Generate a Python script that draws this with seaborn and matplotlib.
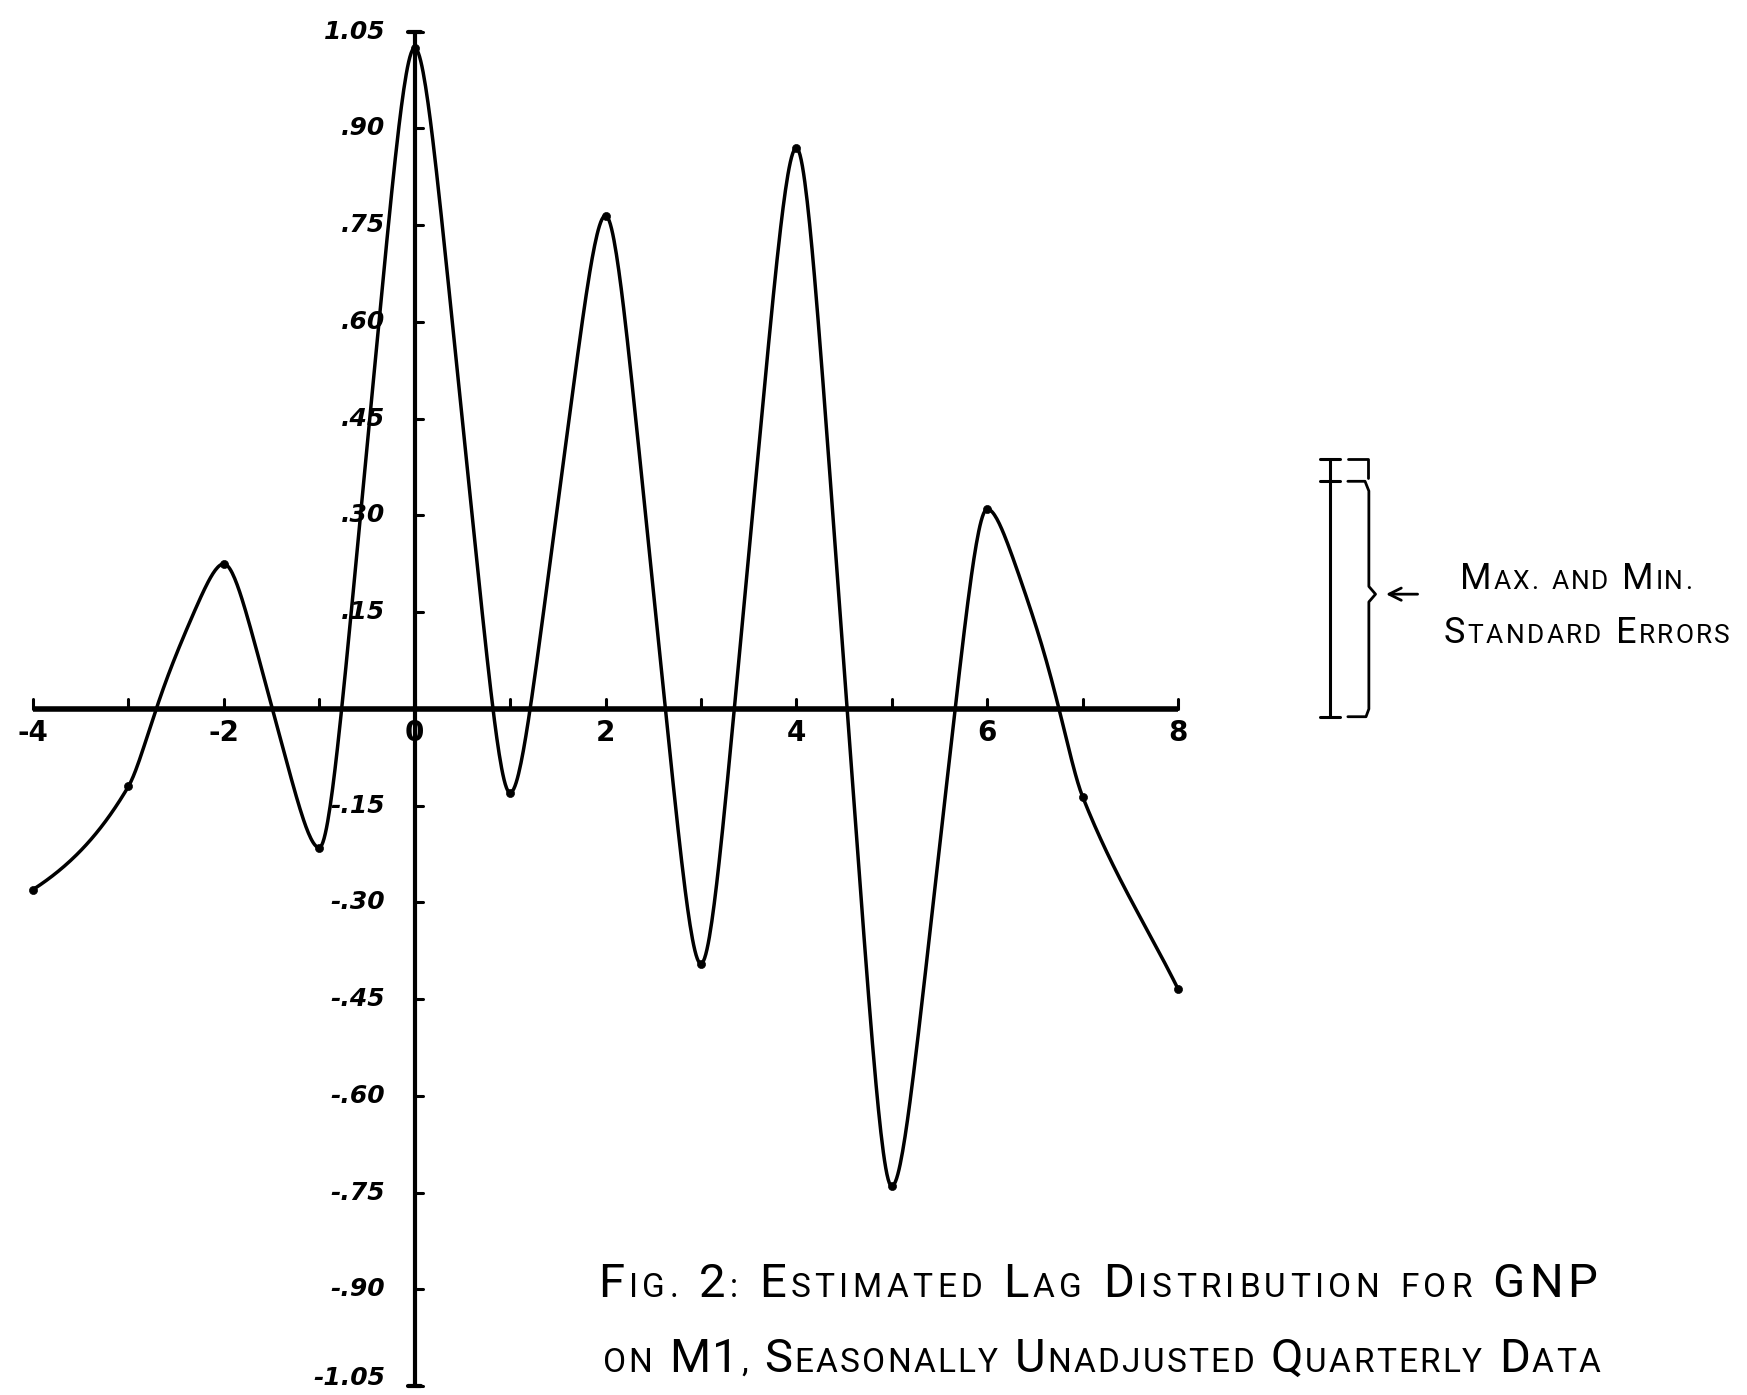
import numpy as np
import pandas as pd
import seaborn as sns
import matplotlib.pyplot as plt
from matplotlib import font_manager
from matplotlib.transforms import IdentityTransform

# estimated lag coefficients
lags = [-4, -3, -2, -1, 0, 1, 2, 3, 4, 5, 6, 7, 8]
coefs = [-0.28, -0.12, 0.225, -0.215, 1.025, -0.13, 0.765, -0.395, 0.87, -0.74, 0.31, -0.136, -0.434]

y_ticks = [1.05, 0.90, 0.75, 0.60, 0.45, 0.30, 0.15,
           -0.15, -0.30, -0.45, -0.60, -0.75, -0.90, -1.05]
y_tick_labels = ["1.05", ".90", ".75", ".60", ".45", ".30", ".15",
                 "-.15", "-.30", "-.45", "-.60", "-.75", "-.90", "-1.05"]
x_ticks = list(range(-4, 9))
x_tick_labels = ["-4", "-2", "0", "2", "4", "6", "8"]

# max and min standard errors (bar lengths)
se_max = 0.40
se_min = 0.365
se_base = -0.012

title_lines = ["Fig. 2: Estimated Lag Distribution for GNP",
               "on M1, Seasonally Unadjusted Quarterly Data"]
note_lines = ["Max. and Min.", "Standard Errors"]

W, H, DPI = 1747, 1395, 100


def pick_family(cands):
    names = {f.name for f in font_manager.fontManager.ttflist}
    for c in cands:
        if c in names:
            return c
    return "DejaVu Sans"


def smooth_curve(xs, ys, n=80):
    # french-curve style line through the points: flat at turning points
    xs = np.asarray(xs, float)
    ys = np.asarray(ys, float)
    d = np.diff(ys) / np.diff(xs)
    m = np.zeros(len(xs))
    for i in range(1, len(xs) - 1):
        if d[i - 1] * d[i] > 0:
            m[i] = (d[i - 1] + d[i]) / 2
    m[0] = 0.6 * d[0]
    m[-1] = d[-1]
    out_x, out_y = [], []
    for i in range(len(xs) - 1):
        t = np.linspace(0, 1, n)
        h = xs[i + 1] - xs[i]
        if m[i] == 0 or m[i + 1] == 0:
            g = 1.25 * (t + ((1 - 2 * t) ** 5 - 1) / 10)
        else:
            g = 3 * t ** 2 - 2 * t ** 3
        h10 = t ** 3 - 2 * t ** 2 + t
        h11 = t ** 3 - t ** 2
        y = ys[i] + (ys[i + 1] - ys[i]) * g + h * (m[i] * h10 + m[i + 1] * h11)
        x = xs[i] + h * t
        if i < len(xs) - 2:
            x, y = x[:-1], y[:-1]
        out_x.extend(x)
        out_y.extend(y)
    return np.array(out_x), np.array(out_y)


def caps_line(fig, text, x0, x1, base_top, big, small, family, weight="normal"):
    # hand-lettered small caps, spread to fill x0..x1 (pixels)
    r = fig.canvas.get_renderer()
    arts = []
    for ch in text:
        if ch == " ":
            arts.append(None)
            continue
        size = big if (ch.isupper() or ch.isdigit()) else small
        t = fig.text(0, H - base_top, ch.upper(), transform=IdentityTransform(),
                     fontsize=size, family=family, weight=weight,
                     ha="left", va="baseline", color="black")
        arts.append(t)
    widths = [t.get_window_extent(r).width if t is not None else small * 0.5
              for t in arts]
    gap = (x1 - x0 - sum(widths)) / (len(arts) - 1)
    x = x0
    for t, w in zip(arts, widths):
        if t is not None:
            t.set_x(x)
        x += w + gap


sns.set_theme(style="white")
plt.rcParams["font.family"] = ["DejaVu Sans"]
plt.rcParams["text.color"] = "black"
letter_font = pick_family(["Roboto", "DejaVu Sans"])

fig = plt.figure(figsize=(W / DPI, H / DPI), dpi=DPI)
fig.patch.set_facecolor("white")
ax = fig.add_axes([0, 0, 1, 1])
ax.set_xlim(-4.346, 13.963)
ax.set_ylim(-1.0636, 1.0992)
ax.axis("off")

# axes drawn by hand
ax.plot([-4, 8], [0, 0], color="black", lw=4, solid_capstyle="butt")
ax.plot([0, 0], [-1.05, 1.05], color="black", lw=3, solid_capstyle="butt")
for v in [1.05, -1.05]:
    ax.plot([-0.07, 0.07], [v, v], color="black", lw=3)
for v in y_ticks:
    ax.plot([0, 0.09], [v, v], color="black", lw=2.2)
for i in x_ticks:
    ax.plot([i, i], [0, 0.016], color="black", lw=2.2)

for v, lab in zip(y_ticks, y_tick_labels):
    yy = v + 0.012 if v < -1 else v
    ax.text(-0.31, yy, lab, ha="right", va="center", fontsize=18,
            fontweight="bold", fontstyle="italic", color="black")
for lab in x_tick_labels:
    ax.text(int(lab), -0.038, lab, ha="center", va="center", fontsize=20,
            fontweight="bold", color="black")

# the lag distribution
cx, cy = smooth_curve(lags, coefs)
curve = pd.DataFrame({"lag": cx, "coef": cy})
sns.lineplot(data=curve, x="lag", y="coef", color="black", lw=2.5,
             sort=False, estimator=None, ax=ax)
sns.scatterplot(x=lags, y=coefs, s=34, color="black", edgecolor="black",
                zorder=4, ax=ax, legend=False)

# standard error bars
bx = 9.59
ax.plot([bx, bx], [se_base, se_base + se_max], color="black", lw=2.2)
for v in [se_base, se_base + se_min, se_base + se_max]:
    ax.plot([bx - 0.105, bx + 0.105], [v, v], color="black", lw=2.2)
top = se_base + se_max
mid = se_base + se_min
ax.plot([9.78, 9.99, 9.99, 9.99], [top, top, top - 0.01, top - 0.03],
        color="black", lw=2)
ax.plot([9.78, 9.96, 10.0, 10.0, 10.07, 10.0, 10.0, 9.97, 9.78],
        [mid, mid, mid - 0.015, 0.19, 0.178, 0.166, se_base + 0.012,
         se_base, se_base], color="black", lw=2)
ax.annotate("", xy=(10.15, 0.178), xytext=(10.54, 0.178),
            arrowprops=dict(arrowstyle="->", lw=2, color="black",
                            mutation_scale=22))

caps_line(fig, note_lines[0], 1460, 1692, 589, 26, 19, letter_font)
caps_line(fig, note_lines[1], 1444, 1730, 643, 26, 19, letter_font)
caps_line(fig, title_lines[0], 598, 1597, 1297, 34, 24, letter_font)
caps_line(fig, title_lines[1], 603, 1600, 1372, 34, 24, letter_font)

fig.savefig("out.png", dpi=DPI, facecolor="white")
